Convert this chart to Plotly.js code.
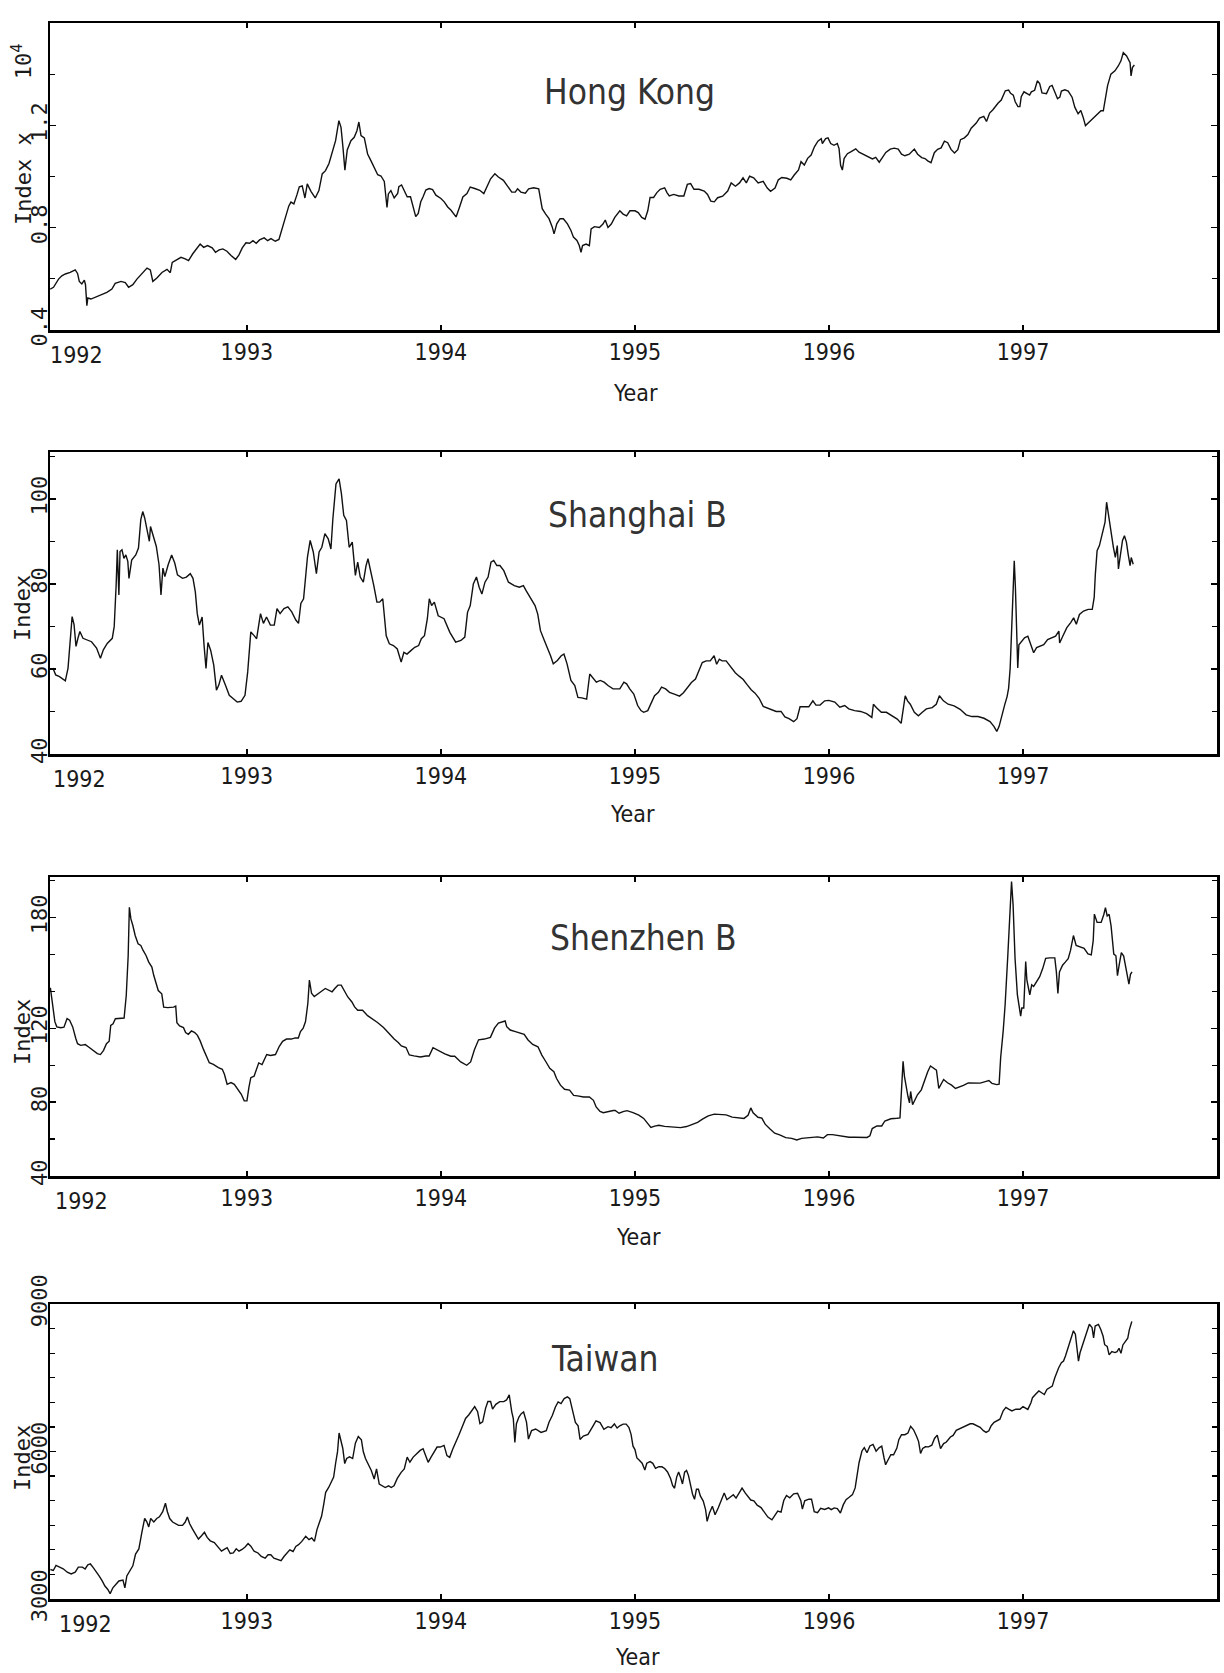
<!DOCTYPE html>
<html><head><meta charset="utf-8">
<script src="https://cdn.plot.ly/plotly-3.0.1.min.js"></script>
<style>html,body{margin:0;padding:0;background:#fff;}#chart{width:1224px;height:1673px;}</style>
</head><body><div id="chart"></div>
<script>
// ---------- data (decimal year, index) ----------
const hkYear=[1991.986,1992.003,1992.029,1992.046,1992.064,1992.089,1992.115,1992.127,1992.136,1992.149,1992.162,1992.168,1992.175,1992.180,1992.196,1992.218,1992.244,1992.278,1992.304,1992.321,1992.351,1992.373,1992.390,1992.412,1992.433,1992.459,1992.485,1992.502,1992.515,1992.536,1992.562,1992.588,1992.605,1992.615,1992.636,1992.660,1992.682,1992.699,1992.720,1992.742,1992.759,1992.777,1992.797,1992.821,1992.838,1992.857,1992.876,1992.897,1992.918,1992.942,1992.959,1992.976,1992.995,1993.014,1993.031,1993.048,1993.065,1993.089,1993.107,1993.124,1993.146,1993.165,1993.182,1993.199,1993.216,1993.227,1993.242,1993.258,1993.270,1993.285,1993.299,1993.311,1993.330,1993.352,1993.371,1993.388,1993.405,1993.423,1993.440,1993.457,1993.474,1993.485,1993.495,1993.505,1993.517,1993.536,1993.553,1993.567,1993.577,1993.588,1993.605,1993.622,1993.639,1993.656,1993.674,1993.691,1993.708,1993.722,1993.729,1993.742,1993.759,1993.777,
1993.783,1993.797,1993.809,1993.826,1993.843,1993.861,1993.870,1993.883,1993.896,1993.908,1993.922,1993.939,1993.957,1993.974,1994.000,1994.017,1994.035,1994.052,1994.078,1994.096,1994.113,1994.134,1994.151,1994.174,1994.200,1994.221,1994.238,1994.256,1994.278,1994.296,1994.322,1994.348,1994.365,1994.383,1994.395,1994.412,1994.435,1994.452,1994.478,1994.504,1994.522,1994.539,1994.557,1994.574,1994.583,1994.597,1994.614,1994.631,1994.652,1994.670,1994.683,1994.701,1994.713,1994.722,1994.730,1994.748,1994.765,1994.774,1994.791,1994.817,1994.835,1994.847,1994.861,1994.878,1994.896,1994.922,1994.939,1994.957,1994.974,1995.000,1995.017,1995.035,1995.052,1995.066,1995.078,1995.096,1995.113,1995.130,1995.153,1995.165,1995.177,1995.200,1995.226,1995.252,1995.270,1995.287,1995.304,1995.330,1995.357,1995.374,1995.391,1995.409,1995.426,1995.452,1995.478,1995.496,1995.518,1995.539,1995.557,1995.574,1995.591,1995.612,1995.635,1995.661,1995.682,1995.699,1995.722,1995.739,1995.757,1995.783,1995.803,1995.821,1995.843,1995.856,1995.873,1995.890,1995.908,1995.925,1995.943,1995.960,
1995.966,1995.983,1995.995,1996.009,1996.026,1996.043,1996.052,1996.060,1996.069,1996.078,1996.095,1996.112,1996.138,1996.155,1996.172,1996.190,1996.207,1996.224,1996.241,1996.259,1996.276,1996.293,1996.316,1996.336,1996.357,1996.374,1996.391,1996.414,1996.440,1996.457,1996.478,1996.495,1996.509,1996.526,1996.543,1996.560,1996.578,1996.595,1996.612,1996.629,1996.647,1996.664,1996.678,1996.698,1996.716,1996.733,1996.759,1996.776,1996.798,1996.812,1996.828,1996.845,1996.871,1996.888,1996.909,1996.926,1996.936,1996.950,1996.960,1996.974,1996.984,1996.991,1997.005,1997.017,1997.034,1997.043,1997.060,1997.074,1997.086,1997.098,1997.121,1997.138,1997.150,1997.164,1997.178,1997.190,1997.198,1997.216,1997.233,1997.253,1997.267,1997.284,1997.298,1997.310,1997.322,1997.340,1997.357,1997.379,1997.402,1997.414,1997.422,1997.436,1997.453,1997.474,1997.491,1997.505,1997.517,1997.534,1997.552,1997.557,1997.564,1997.574];
const hkIndex=[0.560,0.567,0.599,0.612,0.619,0.625,0.635,0.621,0.590,0.580,0.595,0.577,0.495,0.525,0.521,0.528,0.537,0.547,0.560,0.582,0.590,0.585,0.567,0.577,0.599,0.621,0.642,0.635,0.590,0.603,0.625,0.637,0.624,0.664,0.674,0.684,0.678,0.671,0.697,0.717,0.736,0.723,0.730,0.721,0.704,0.713,0.717,0.708,0.691,0.676,0.694,0.721,0.741,0.739,0.749,0.739,0.752,0.760,0.749,0.757,0.747,0.754,0.799,0.838,0.885,0.900,0.893,0.929,0.960,0.963,0.916,0.971,0.942,0.916,0.945,1.010,1.023,1.051,1.091,1.140,1.218,1.192,1.114,1.025,1.104,1.140,1.153,1.179,1.213,1.160,1.151,1.088,1.062,1.033,1.007,1.002,0.981,0.879,0.932,0.945,0.916,0.934,
0.960,0.967,0.947,0.921,0.921,0.869,0.843,0.856,0.901,0.921,0.947,0.953,0.949,0.927,0.914,0.901,0.881,0.868,0.842,0.881,0.920,0.933,0.959,0.953,0.946,0.933,0.959,0.991,1.011,0.998,0.985,0.959,0.939,0.939,0.952,0.939,0.935,0.952,0.956,0.952,0.874,0.854,0.835,0.802,0.776,0.815,0.835,0.835,0.815,0.789,0.763,0.750,0.730,0.704,0.730,0.736,0.730,0.795,0.804,0.801,0.814,0.830,0.801,0.814,0.840,0.866,0.853,0.846,0.866,0.866,0.859,0.840,0.833,0.866,0.918,0.918,0.937,0.950,0.956,0.937,0.924,0.930,0.924,0.924,0.969,0.972,0.950,0.950,0.943,0.930,0.904,0.901,0.917,0.923,0.943,0.975,0.962,0.975,0.995,0.975,1.001,0.995,0.975,0.981,0.955,0.942,0.955,0.987,0.996,0.993,0.987,1.006,1.026,1.058,1.045,1.071,1.084,1.116,1.138,1.148,
1.129,1.148,1.151,1.129,1.122,1.129,1.109,1.044,1.025,1.070,1.089,1.096,1.108,1.095,1.089,1.080,1.076,1.069,1.075,1.056,1.075,1.094,1.107,1.111,1.107,1.087,1.081,1.087,1.107,1.087,1.074,1.070,1.061,1.054,1.093,1.106,1.112,1.138,1.132,1.106,1.092,1.105,1.144,1.151,1.164,1.189,1.209,1.228,1.235,1.215,1.248,1.261,1.286,1.299,1.335,1.338,1.325,1.318,1.292,1.273,1.273,1.312,1.331,1.325,1.318,1.331,1.337,1.374,1.363,1.327,1.324,1.352,1.356,1.330,1.304,1.310,1.334,1.339,1.334,1.310,1.271,1.245,1.258,1.232,1.199,1.212,1.225,1.238,1.257,1.257,1.296,1.355,1.400,1.413,1.432,1.452,1.484,1.471,1.445,1.393,1.426,1.436];

const shYear=[1992.000,1992.014,1992.034,1992.064,1992.078,1992.091,1992.099,1992.109,1992.119,1992.129,1992.139,1992.155,1992.175,1992.199,1992.225,1992.245,1992.260,1992.280,1992.306,1992.316,1992.326,1992.332,1992.340,1992.346,1992.356,1992.366,1992.376,1992.386,1992.392,1992.406,1992.427,1992.441,1992.453,1992.463,1992.473,1992.487,1992.497,1992.503,1992.517,1992.533,1992.547,1992.557,1992.567,1992.577,1992.594,1992.612,1992.628,1992.642,1992.668,1992.688,1992.708,1992.722,1992.734,1992.744,1992.755,1992.769,1992.779,1992.789,1992.799,1992.813,1992.829,1992.843,1992.855,1992.869,1992.889,1992.909,1992.930,1992.950,1992.970,1992.990,1993.004,1993.020,1993.036,1993.050,1993.070,1993.085,1993.101,1993.121,1993.141,1993.155,1993.171,1993.191,1993.211,1993.231,1993.252,1993.266,1993.278,1993.292,1993.312,1993.326,1993.342,1993.358,1993.372,1993.386,1993.402,1993.419,1993.433,1993.443,1993.459,1993.475,1993.487,1993.499,1993.513,1993.527,1993.543,1993.559,1993.571,1993.584,1993.600,1993.614,1993.624,1993.636,1993.654,1993.670,1993.684,1993.700,1993.718,1993.734,1993.755,1993.775,1993.795,1993.809,1993.825,1993.845,1993.865,1993.885,1993.899,1993.915,1993.930,1993.940,1993.952,1993.966,1993.986,1994.016,1994.046,1994.076,1994.103,1994.123,1994.137,1994.151,1994.167,1994.183,1994.197,1994.211,1994.227,1994.243,1994.258,1994.272,1994.288,1994.304,1994.324,1994.348,1994.378,1994.404,1994.425,1994.439,1994.459,1994.485,1994.499,1994.513,1994.533,1994.549,1994.565,1994.579,1994.600,1994.620,1994.634,1994.650,1994.670,1994.690,1994.706,1994.726,1994.751,1994.767,1994.781,1994.801,1994.821,1994.841,1994.861,1994.887,
1994.922,1994.943,1994.957,1994.973,1994.994,1995.014,1995.031,1995.045,1995.066,1995.086,1995.101,1995.121,1995.137,1995.158,1995.178,1995.203,1995.230,1995.250,1995.271,1995.291,1995.312,1995.332,1995.347,1995.367,1995.388,1995.408,1995.421,1995.435,1995.449,1995.470,1995.490,1995.517,1995.537,1995.558,1995.578,1995.599,1995.619,1995.640,1995.661,1995.681,1995.702,1995.728,1995.753,1995.773,1995.794,1995.818,1995.835,1995.851,1995.876,1995.896,1995.917,1995.933,1995.954,1995.978,1995.999,1996.030,1996.056,1996.081,1996.102,1996.132,1996.163,1996.194,1996.221,1996.229,1996.245,1996.270,1996.296,1996.327,1996.352,1996.372,1996.385,1996.393,1996.405,1996.419,1996.440,1996.461,1996.481,1996.502,1996.532,1996.553,1996.569,1996.590,1996.614,1996.645,1996.676,1996.707,1996.737,1996.768,1996.799,1996.830,1996.850,1996.865,1996.877,1996.891,1996.906,1996.918,1996.926,1996.934,1996.943,1996.949,1996.955,1996.961,1996.967,1996.973,1996.979,1996.994,1997.008,1997.025,1997.041,1997.055,1997.070,1997.090,1997.107,1997.127,1997.148,1997.168,1997.185,1997.189,1997.205,1997.226,1997.246,1997.261,1997.275,1997.291,1997.312,1997.336,1997.357,1997.367,1997.373,1997.382,1997.394,1997.410,1997.423,1997.431,1997.439,1997.447,1997.455,1997.466,1997.476,1997.486,1997.492,1997.505,1997.513,1997.523,1997.533,1997.542,1997.552,1997.558,1997.568];
const shIndex=[60.2,58.6,58.2,57.2,60.2,68.0,72.3,70.4,65.3,67.2,68.8,67.2,66.8,66.4,64.9,62.5,64.5,66.0,67.2,70.0,79.8,88.0,77.4,87.6,88.0,86.0,86.8,85.3,81.3,85.6,86.8,88.4,95.1,97.0,95.5,92.7,90.0,93.5,91.5,88.8,84.5,77.4,83.7,81.7,84.5,86.8,84.9,82.1,81.3,81.6,82.4,81.3,78.1,73.0,70.3,72.2,65.6,60.1,66.2,64.4,60.9,55.0,56.2,58.5,56.2,53.8,53.0,52.2,52.4,53.8,59.3,68.7,67.9,67.1,73.0,70.7,72.2,70.3,70.3,74.2,73.0,74.2,74.6,73.4,71.5,70.7,75.4,76.5,86.3,90.2,87.5,82.4,87.5,88.6,91.8,90.6,88.2,95.3,103.5,104.7,101.2,96.1,94.9,88.6,89.8,82.0,85.1,81.6,80.4,84.3,85.9,83.5,79.6,75.7,75.7,76.5,67.8,65.9,65.5,64.7,61.6,63.9,63.5,64.3,65.1,65.5,67.1,67.8,71.8,76.5,74.9,75.7,72.5,71.8,68.6,66.3,66.7,67.5,73.3,74.9,80.0,81.6,79.2,77.6,80.4,81.6,85.1,85.5,84.3,84.3,83.1,80.4,79.6,79.2,79.6,78.4,76.9,74.9,72.9,69.0,66.7,65.1,63.1,61.2,62.0,63.1,63.5,61.2,57.3,56.1,53.3,53.2,52.9,58.8,58.0,56.9,57.3,56.9,56.1,55.3,
55.3,56.9,56.5,55.3,54.1,51.4,50.2,49.8,50.2,52.1,53.7,54.5,55.7,55.3,54.5,54.1,53.6,54.4,55.6,56.8,57.6,59.9,61.5,61.9,61.9,63.1,61.1,62.3,61.9,61.9,60.6,59.1,58.3,57.5,56.3,55.1,54.3,53.1,51.2,50.8,50.4,50.0,50.0,48.7,48.3,47.6,48.3,51.1,51.1,51.1,52.5,51.5,51.5,52.5,52.6,52.2,51.0,51.4,50.6,50.2,50.0,49.5,48.6,51.7,50.9,49.8,49.8,49.0,48.2,47.2,50.9,53.7,52.5,51.7,49.8,49.0,49.8,50.6,50.9,51.7,53.7,52.5,51.7,51.3,50.5,49.2,48.8,48.8,48.4,47.6,46.5,45.3,46.5,49.2,51.6,53.5,55.5,60.2,69.7,79.1,85.4,79.1,66.5,60.2,65.7,66.5,67.3,67.7,65.7,63.8,65.0,65.4,65.7,66.9,67.3,67.7,68.9,66.1,67.7,69.7,70.9,72.0,70.5,72.8,73.6,74.0,74.0,76.8,82.3,87.8,89.0,91.7,94.5,99.2,96.5,94.1,91.7,88.6,86.2,89.0,83.5,87.0,90.2,91.3,89.8,87.0,84.3,86.2,84.6];

const szYear=[1991.987,1991.990,1992.000,1992.010,1992.020,1992.041,1992.057,1992.065,1992.073,1992.086,1992.102,1992.118,1992.127,1992.143,1992.167,1992.184,1992.208,1992.229,1992.245,1992.261,1992.276,1992.290,1992.298,1992.310,1992.322,1992.347,1992.367,1992.378,1992.388,1992.394,1992.402,1992.412,1992.424,1992.439,1992.453,1992.465,1992.480,1992.494,1992.510,1992.520,1992.531,1992.543,1992.561,1992.571,1992.592,1992.622,1992.633,1992.639,1992.653,1992.673,1992.684,1992.698,1992.714,1992.731,1992.745,1992.759,1992.776,1992.796,1992.806,1992.827,1992.853,1992.873,1992.884,1992.898,1992.918,1992.935,1992.955,1992.971,1992.986,1993.000,1993.010,1993.020,1993.037,1993.051,1993.061,1993.078,1993.092,1993.102,1993.122,1993.147,1993.167,1993.184,1993.204,1993.229,1993.249,1993.265,1993.276,1993.290,1993.302,1993.314,1993.322,1993.333,1993.347,1993.357,1993.371,1993.388,1993.404,1993.418,1993.439,1993.453,1993.469,1993.486,1993.500,1993.520,1993.541,1993.555,1993.571,1993.596,1993.622,1993.649,1993.673,1993.704,1993.735,1993.759,1993.780,1993.796,1993.820,1993.837,1993.861,1993.894,1993.922,1993.939,1993.959,1993.990,1994.020,1994.051,1994.071,1994.102,1994.133,1994.153,1994.173,1994.194,1994.224,1994.255,1994.276,1994.296,1994.316,1994.331,1994.339,1994.357,1994.384,1994.408,1994.429,1994.449,1994.473,1994.500,1994.520,1994.541,1994.561,1994.582,1994.596,1994.616,1994.637,1994.663,1994.684,1994.704,1994.735,1994.765,1994.786,1994.800,1994.820,1994.837,1994.861,1994.888,
1994.898,1994.918,1994.939,1994.959,1994.990,1995.020,1995.045,1995.061,1995.082,1995.102,1995.123,1995.153,1995.184,1995.215,1995.235,1995.266,1995.297,1995.323,1995.348,1995.378,1995.409,1995.440,1995.470,1995.501,1995.532,1995.562,1995.583,1995.597,1995.609,1995.634,1995.654,1995.671,1995.695,1995.720,1995.746,1995.777,1995.808,1995.834,1995.859,1995.883,1995.910,1995.941,1995.971,1995.992,1996.018,1996.043,1996.074,1996.104,1996.135,1996.170,1996.196,1996.211,1996.223,1996.247,1996.272,1996.288,1996.319,1996.350,1996.366,1996.374,1996.382,1996.389,1996.397,1996.407,1996.415,1996.421,1996.431,1996.442,1996.456,1996.476,1996.493,1996.509,1996.523,1996.538,1996.554,1996.566,1996.579,1996.591,1996.611,1996.632,1996.652,1996.673,1996.693,1996.718,1996.748,1996.779,1996.810,1996.824,1996.840,1996.865,1996.877,1996.885,1996.898,1996.908,1996.922,1996.935,1996.941,1996.949,1996.959,1996.971,1996.980,1996.988,1996.994,1997.004,1997.014,1997.020,1997.035,1997.045,1997.055,1997.070,1997.086,1997.102,1997.117,1997.137,1997.164,1997.172,1997.180,1997.188,1997.204,1997.219,1997.233,1997.245,1997.260,1997.274,1997.294,1997.315,1997.335,1997.352,1997.362,1997.368,1997.382,1997.403,1997.417,1997.425,1997.434,1997.444,1997.454,1997.460,1997.468,1997.479,1997.487,1997.495,1997.507,1997.519,1997.532,1997.540,1997.546,1997.554,1997.562];
const szIndex=[142.0,139.8,130.8,123.6,120.8,120.3,120.6,123.5,125.3,124.4,120.8,114.5,111.7,110.8,111.2,109.9,108.1,106.3,105.8,108.1,111.7,113.0,121.6,122.5,125.2,125.2,125.6,137.8,159.5,185.6,179.3,175.7,170.3,165.8,164.9,162.2,159.5,155.9,153.2,148.6,145.0,140.5,138.7,131.5,131.2,131.5,132.1,123.1,121.3,120.4,117.7,116.8,118.6,117.7,116.2,113.2,108.6,103.2,101.4,100.5,98.7,97.8,95.1,89.7,90.6,89.7,87.0,84.3,80.7,80.7,87.9,93.3,94.1,97.7,101.3,100.4,104.0,105.8,105.3,105.8,110.3,113.0,114.2,114.2,114.8,114.8,118.3,120.1,123.7,133.6,146.2,139.0,137.2,138.1,139.0,140.4,141.6,140.7,139.8,141.6,143.4,143.4,140.7,137.0,134.3,131.6,129.8,129.8,126.9,125.1,123.2,120.5,116.9,114.2,112.3,110.5,109.6,105.6,105.1,104.5,105.0,105.0,109.5,107.7,106.2,104.9,104.9,101.8,100.0,101.8,108.5,113.8,114.2,115.1,120.1,122.8,123.3,124.0,120.9,119.1,118.2,117.3,116.7,113.7,111.3,110.0,105.5,101.9,98.3,96.5,92.8,89.2,87.0,86.5,83.7,83.4,82.8,82.8,81.0,77.4,75.0,74.3,75.0,75.5,
75.5,74.0,74.9,75.4,74.3,73.0,71.2,68.8,66.3,67.0,67.5,66.9,66.5,66.2,66.2,66.8,67.9,69.1,70.8,72.6,73.5,73.1,73.1,71.9,71.5,71.2,72.9,76.9,74.2,71.8,71.4,68.1,65.6,63.2,62.3,60.8,60.4,59.5,60.4,60.7,61.2,61.2,60.6,62.4,62.4,62.0,61.6,61.0,61.0,60.9,60.9,61.8,65.7,67.1,67.1,69.8,71.0,71.3,71.5,86.8,102.1,94.0,88.6,83.2,79.6,85.8,78.6,81.3,84.0,86.7,92.1,96.5,99.6,98.3,97.4,87.5,90.5,92.3,90.5,89.2,87.4,88.2,89.1,90.4,90.3,90.3,91.3,91.7,90.2,89.5,89.8,104.2,118.6,132.9,159.9,186.9,199.5,186.9,158.1,138.3,132.0,126.6,131.0,131.0,156.2,146.3,138.2,143.6,142.7,145.4,148.0,152.5,157.9,158.2,158.2,150.6,138.9,150.6,154.2,156.0,157.8,162.2,170.3,164.9,164.0,163.4,160.3,159.8,167.5,181.9,177.4,177.4,181.8,185.4,180.9,181.8,175.5,170.1,160.2,159.3,148.5,153.9,161.0,159.2,152.0,148.4,143.9,149.3,150.6];

const twYear=[1991.987,1992.002,1992.016,1992.033,1992.053,1992.074,1992.094,1992.115,1992.131,1992.152,1992.166,1992.180,1992.193,1992.207,1992.221,1992.238,1992.254,1992.268,1992.283,1992.295,1992.309,1992.324,1992.340,1992.361,1992.371,1992.381,1992.398,1992.412,1992.426,1992.443,1992.459,1992.473,1992.484,1992.494,1992.504,1992.520,1992.535,1992.549,1992.566,1992.580,1992.590,1992.602,1992.617,1992.631,1992.648,1992.668,1992.682,1992.693,1992.705,1992.719,1992.734,1992.750,1992.766,1992.781,1992.795,1992.811,1992.832,1992.852,1992.869,1992.883,1992.898,1992.914,1992.930,1992.945,1992.959,1992.975,1992.992,1993.006,1993.020,1993.037,1993.057,1993.074,1993.094,1993.109,1993.123,1993.139,1993.160,1993.176,1993.191,1993.205,1993.221,1993.238,1993.252,1993.266,1993.283,1993.303,1993.320,1993.334,1993.348,1993.361,1993.375,1993.385,1993.396,1993.406,1993.422,1993.436,1993.447,1993.457,1993.467,1993.475,1993.484,1993.494,1993.504,1993.514,1993.529,1993.545,1993.559,1993.574,1993.590,1993.600,1993.611,1993.627,1993.641,1993.656,1993.668,1993.682,1993.697,1993.713,1993.730,1993.744,1993.758,1993.775,1993.795,1993.811,1993.826,1993.840,1993.857,1993.873,1993.893,1993.908,1993.922,1993.934,1993.949,1993.963,1993.980,1993.996,1994.016,1994.031,1994.045,1994.061,1994.078,1994.092,1994.113,1994.127,1994.143,1994.160,1994.174,1994.189,1994.201,1994.215,1994.230,1994.242,1994.256,1994.266,1994.283,1994.303,1994.324,1994.338,1994.352,1994.365,1994.373,1994.381,1994.389,1994.402,1994.414,1994.426,1994.441,1994.451,1994.467,1994.488,1994.516,1994.543,1994.557,1994.574,1994.590,1994.604,1994.619,1994.635,1994.652,1994.664,1994.676,1994.693,1994.707,1994.717,1994.734,1994.758,1994.779,1994.799,1994.820,1994.840,1994.861,1994.877,
1994.894,1994.908,1994.922,1994.939,1994.955,1994.969,1994.980,1994.990,1995.000,1995.010,1995.020,1995.037,1995.051,1995.061,1995.078,1995.092,1995.106,1995.123,1995.139,1995.153,1995.168,1995.184,1995.194,1995.204,1995.215,1995.225,1995.235,1995.245,1995.256,1995.266,1995.276,1995.286,1995.297,1995.307,1995.317,1995.327,1995.337,1995.352,1995.364,1995.372,1995.384,1995.399,1995.413,1995.429,1995.446,1995.460,1995.474,1995.491,1995.507,1995.521,1995.536,1995.552,1995.569,1995.583,1995.597,1995.613,1995.630,1995.650,1995.665,1995.685,1995.706,1995.720,1995.736,1995.753,1995.767,1995.781,1995.798,1995.818,1995.838,1995.855,1995.863,1995.875,1995.896,1995.910,1995.924,1995.941,1995.957,1995.978,1995.998,1996.012,1996.027,1996.043,1996.059,1996.074,1996.088,1996.104,1996.121,1996.135,1996.145,1996.155,1996.170,1996.182,1996.196,1996.211,1996.227,1996.243,1996.258,1996.272,1996.284,1996.292,1996.305,1996.319,1996.333,1996.350,1996.360,1996.374,1996.391,1996.407,1996.421,1996.436,1996.452,1996.462,1996.472,1996.483,1996.497,1996.513,1996.530,1996.544,1996.558,1996.575,1996.591,1996.605,1996.626,1996.640,1996.656,1996.673,1996.687,1996.708,1996.728,1996.742,1996.759,1996.779,1996.796,1996.810,1996.824,1996.836,1996.851,1996.865,1996.881,1996.898,1996.912,1996.926,1996.943,1996.963,1996.984,1997.000,1997.025,1997.041,1997.049,1997.065,1997.082,1997.096,1997.110,1997.123,1997.137,1997.151,1997.164,1997.172,1997.184,1997.198,1997.209,1997.219,1997.229,1997.239,1997.249,1997.260,1997.270,1997.278,1997.286,1997.294,1997.311,1997.327,1997.342,1997.356,1997.364,1997.372,1997.389,1997.401,1997.413,1997.421,1997.434,1997.444,1997.458,1997.474,1997.485,1997.495,1997.505,1997.515,1997.528,1997.540,1997.548,1997.556,1997.561];
const twIndex=[3600,3580,3683,3649,3614,3545,3511,3545,3649,3649,3610,3693,3713,3644,3575,3471,3367,3263,3194,3110,3228,3297,3366,3385,3226,3468,3571,3674,3915,4018,4363,4639,4569,4466,4638,4568,4637,4671,4775,4947,4774,4636,4566,4532,4497,4497,4565,4668,4530,4426,4323,4219,4288,4356,4252,4183,4148,4065,3974,4009,4043,3925,3938,4021,3973,4007,4062,4130,4075,3971,3936,3867,3831,3900,3900,3831,3810,3782,3864,3933,4001,3967,4070,4104,4172,4276,4206,4241,4171,4412,4585,4688,4929,5171,5274,5412,5480,5756,5997,6376,6238,6066,5755,5858,5892,5857,6168,6305,6236,5995,5857,5718,5614,5441,5648,5337,5302,5267,5301,5267,5301,5452,5576,5645,5886,5782,5886,5954,6022,6057,5919,5780,5884,5986,6090,6090,6124,5916,5881,6053,6191,6329,6535,6673,6742,6845,6914,6809,6568,6602,6878,7016,7016,6863,6959,7014,7014,7048,7151,6806,6667,6184,6564,6701,6770,6804,6597,6252,6424,6458,6389,6422,6595,6732,6905,7008,6973,7076,7110,7075,6868,6591,6522,6246,6315,6349,6487,6624,6589,6451,6505,6485,
6560,6477,6523,6557,6556,6487,6349,6108,6039,5868,5833,5763,5625,5762,5795,5760,5656,5690,5689,5654,5584,5447,5309,5253,5480,5582,5478,5340,5580,5614,5510,5304,5132,5028,5234,5233,5096,4992,4820,4579,4750,4886,4714,4851,5021,5157,5019,5074,5121,5052,5153,5255,5152,5082,5013,4998,4908,4860,4769,4666,4609,4698,4786,4765,5004,5106,5057,5138,5151,4999,4827,4998,5031,5030,4776,4755,4843,4821,4854,4819,4853,4838,4749,4919,5021,5068,5122,5259,5532,5772,6011,6079,5975,6112,6145,6007,6075,6108,5868,5730,5832,5934,5933,6070,6241,6343,6342,6375,6512,6442,6304,6201,5960,6062,6096,6095,6129,6265,6333,6058,6160,6193,6295,6328,6431,6464,6497,6531,6564,6563,6528,6492,6423,6388,6422,6524,6592,6625,6658,6829,6897,6862,6826,6860,6858,6913,6856,6993,7095,7163,7231,7195,7160,7262,7296,7330,7500,7602,7705,7807,7841,7943,8080,8216,8353,8455,8386,8077,7837,8008,8213,8451,8588,8519,8312,8552,8586,8482,8344,8172,8137,7965,8033,8012,8032,8100,7996,8167,8235,8303,8474,8610,8645];

// ---------- axis ticks & labels ----------
const panelNames=['Hong Kong','Shanghai B','Shenzhen B','Taiwan'];
const yearTicks=[1993,1994,1995,1996,1997];
const hkLabels=[0.4,0.8,1.2,1.6];
const shLabels=[40,60,80,100];
const szLabels=[40,80,120,180];
const twLabels=[3000,6000,9000];
const hkMinorStep=0.2, shMinorStep=10, szMinorStep=20, twMinorStep=500;

// ---------- layout ----------
const W=1224,H=1673;
const fx=p=>p/W, fy=p=>1-p/H;
const panels=[ // frame positions in page pixels
  {top:23,bottom:330,range:[0.4,1.6],tv:hkLabels,step:hkMinorStep,fmt:v=>v.toFixed(1),x:hkYear,y:hkIndex,title:[630,92],year:[635,393],idx:135,l1992:76},
  {top:452,bottom:754,range:[40,111],tv:shLabels,step:shMinorStep,fmt:String,x:shYear,y:shIndex,title:[637,515],year:[632,814],idx:608,l1992:79},
  {top:877,bottom:1176,range:[40,202],tv:szLabels,step:szMinorStep,fmt:String,x:szYear,y:szIndex,title:[643,938],year:[638,1237],idx:1032,l1992:81},
  {top:1304,bottom:1599,range:[3000,9000],tv:twLabels,step:twMinorStep,fmt:String,x:twYear,y:twIndex,title:[605,1359],year:[637,1657],idx:1458,l1992:85}
];
const narrow="'Liberation Sans Narrow','DejaVu Sans Condensed','Arial Narrow',sans-serif";
const mono="'DejaVu Sans Mono','Liberation Mono',monospace";
const ink='#1a1a1a';
const layout={width:W,height:H,autosize:false,margin:{l:0,r:0,t:0,b:0},
  paper_bgcolor:'#fff',plot_bgcolor:'#fff',showlegend:false,annotations:[]};
const traces=[];
panels.forEach((p,i)=>{
  const n=i===0?'':String(i+1);
  layout['xaxis'+n]={domain:[fx(50),fx(1217)],range:[1991.985,1998.0],anchor:'y'+n,
    tickvals:yearTicks,ticktext:yearTicks.map(String),ticks:'inside',ticklen:5,tickwidth:1.5,tickcolor:'#000',
    showline:true,linewidth:2.5,linecolor:'#000',mirror:'ticks',showgrid:false,zeroline:false,
    tickfont:{family:narrow,size:23,color:ink},ticklabelstandoff:0,fixedrange:true};
  layout['yaxis'+n]={domain:[fy(p.bottom),fy(p.top)],range:p.range,anchor:'x'+n,
    tickvals:p.tv,ticktext:p.tv.map(p.fmt),tickangle:-90,ticks:'inside',ticklen:6,tickwidth:1.5,tickcolor:'#000',
    minor:{tick0:p.range[0],dtick:p.step,ticks:'inside',ticklen:5,tickwidth:1.2,tickcolor:'#000',showgrid:false},
    showline:true,linewidth:2.5,linecolor:'#000',mirror:'ticks',showgrid:false,zeroline:false,
    tickfont:{family:mono,size:22,color:ink},ticklabelstandoff:-8,fixedrange:true};
  traces.push({type:'scatter',mode:'lines',x:p.x,y:p.y,xaxis:'x'+n,yaxis:'y'+n,
    line:{color:'#111',width:1.4},hoverinfo:'skip'});
  layout.annotations.push(
    {xref:'paper',yref:'paper',x:fx(p.title[0]),y:fy(p.title[1]),text:panelNames[i],showarrow:false,
     xanchor:'center',yanchor:'middle',font:{family:narrow,size:35,color:'#333'}},
    {xref:'paper',yref:'paper',x:fx(p.year[0]),y:fy(p.year[1]),text:'Year',showarrow:false,
     xanchor:'center',yanchor:'middle',font:{family:narrow,size:23,color:ink}},
    {xref:'paper',yref:'paper',x:fx(22),y:fy(p.idx),
     text:i===0?'Index x\u00A0\u00A0\u00A0\u00A010<sup>4</sup>':'Index',textangle:-90,showarrow:false,
     xanchor:'center',yanchor:'middle',font:{family:mono,size:22,color:ink}},
    {xref:'paper',yref:'paper',x:fx(p.l1992),y:fy(p.bottom+25),text:'1992',showarrow:false,
     xanchor:'center',yanchor:'middle',font:{family:narrow,size:23,color:ink}}
  );
});
Plotly.newPlot('chart',traces,layout,{displayModeBar:false,staticPlot:true});
</script>
</body></html>
